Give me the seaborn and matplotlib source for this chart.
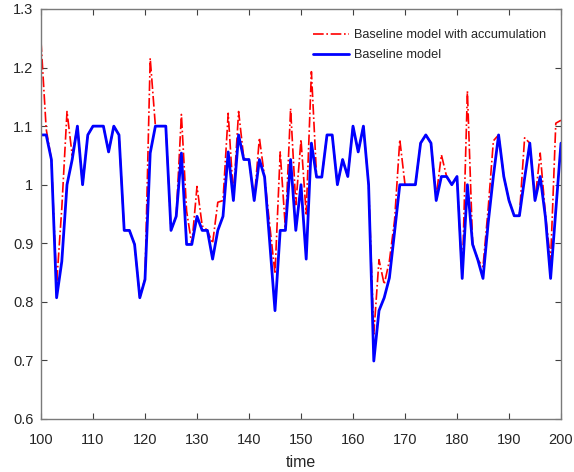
import matplotlib
matplotlib.use("Agg")
import matplotlib.pyplot as plt
import seaborn as sns
import pandas as pd

time = list(range(100, 201))

baseline = [
    1.085, 1.085, 1.043, 0.807, 0.869, 1.000, 1.043, 1.100, 1.000, 1.085,  # 100-109
    1.100, 1.100, 1.100, 1.056, 1.100, 1.085, 0.922, 0.922, 0.898, 0.807,  # 110-119
    0.838, 1.054, 1.100, 1.100, 1.100, 0.922, 0.946, 1.054, 0.898, 0.898,  # 120-129
    0.946, 0.922, 0.922, 0.873, 0.922, 0.946, 1.056, 0.973, 1.085, 1.043,  # 130-139
    1.043, 0.973, 1.043, 1.013, 0.900, 0.785, 0.922, 0.922, 1.043, 0.922,  # 140-149
    1.000, 0.873, 1.071, 1.013, 1.013, 1.085, 1.085, 1.000, 1.043, 1.014,  # 150-159
    1.100, 1.056, 1.100, 1.000, 0.699, 0.785, 0.807, 0.841, 0.920, 1.000,  # 160-169
    1.000, 1.000, 1.000, 1.071, 1.085, 1.071, 0.973, 1.014, 1.014, 1.000,  # 170-179
    1.014, 0.840, 1.000, 0.898, 0.872, 0.840, 0.935, 1.015, 1.085, 1.014,  # 180-189
    0.973, 0.947, 0.947, 1.011, 1.071, 0.973, 1.014, 0.945, 0.840, 0.956,  # 190-199
    1.071,                                                                 # 200
]

accumulation = [
    1.245, 1.095, 1.043, 0.830, 0.960, 1.125, 1.050, 1.100, 1.000, 1.085,  # 100-109
    1.100, 1.100, 1.100, 1.056, 1.100, 1.085, 0.922, 0.922, 0.898, 0.807,  # 110-119
    0.840, 1.216, 1.100, 1.100, 1.100, 0.922, 0.946, 1.120, 0.955, 0.898,  # 120-129
    0.997, 0.930, 0.922, 0.900, 0.970, 0.973, 1.122, 0.980, 1.125, 1.045,  # 130-139
    1.043, 0.973, 1.080, 1.013, 0.930, 0.848, 1.056, 0.925, 1.130, 0.966,  # 140-149
    1.077, 0.950, 1.193, 1.013, 1.013, 1.085, 1.085, 1.000, 1.043, 1.014,  # 150-159
    1.100, 1.056, 1.100, 1.000, 0.745, 0.872, 0.830, 0.870, 0.940, 1.077,  # 160-169
    1.000, 1.000, 1.000, 1.071, 1.085, 1.071, 0.980, 1.051, 1.014, 1.000,  # 170-179
    1.014, 0.840, 1.160, 0.900, 0.872, 0.860, 0.960, 1.075, 1.085, 1.014,  # 180-189
    0.973, 0.947, 0.947, 1.080, 1.071, 0.973, 1.054, 0.950, 0.870, 1.105,  # 190-199
    1.110,                                                                 # 200
]

label_acc = "Baseline model with accumulation"
label_base = "Baseline model"

x_ticks = [100, 110, 120, 130, 140, 150, 160, 170, 180, 190, 200]
y_ticks = [0.6, 0.7, 0.8, 0.9, 1.0, 1.1, 1.2, 1.3]
y_tick_labels = ["0.6", "0.7", "0.8", "0.9", "1", "1.1", "1.2", "1.3"]

sns.set_theme(style="white")
plt.rcParams["font.family"] = ["Liberation Sans", "DejaVu Sans"]

df_acc = pd.DataFrame({"time": time, "value": accumulation})
df_base = pd.DataFrame({"time": time, "value": baseline})

fig = plt.figure(figsize=(5.74, 4.72), dpi=100)
ax = fig.add_axes([41 / 574, 1 - 419 / 472, 520 / 574, 410 / 472])

sns.lineplot(data=df_acc, x="time", y="value", ax=ax, color="#ff0000",
             linestyle="-.", linewidth=1.2, label=label_acc)
sns.lineplot(data=df_base, x="time", y="value", ax=ax, color="#0000ff",
             linestyle="-", linewidth=2.0, label=label_base)

ax.set_xlim(100, 200)
ax.set_ylim(0.6, 1.3)
ax.set_xticks(x_ticks)
ax.set_xticklabels([str(t) for t in x_ticks])
ax.set_yticks(y_ticks)
ax.set_yticklabels(y_tick_labels)
ax.set_xlabel("time", fontsize=11.5, color="#262626", labelpad=6)
ax.set_ylabel("")

for s in ax.spines.values():
    s.set_color("#7a7a7a")
    s.set_linewidth(1.0)
ax.tick_params(axis="both", direction="in", length=4, width=0.8, color="#404040",
               labelsize=10.5, labelcolor="#262626", top=True, right=True,
               bottom=True, left=True)
ax.tick_params(axis="x", pad=10)
ax.tick_params(axis="y", pad=5.5)

leg = ax.legend(loc="upper left", bbox_to_anchor=(0.524, 0.95), frameon=False,
                fontsize=9.2, handlelength=2.8, handletextpad=0.4,
                borderpad=0, borderaxespad=0, labelspacing=0.6)
for t in leg.get_texts():
    t.set_color("#262626")

fig.savefig("out.png", dpi=100)
